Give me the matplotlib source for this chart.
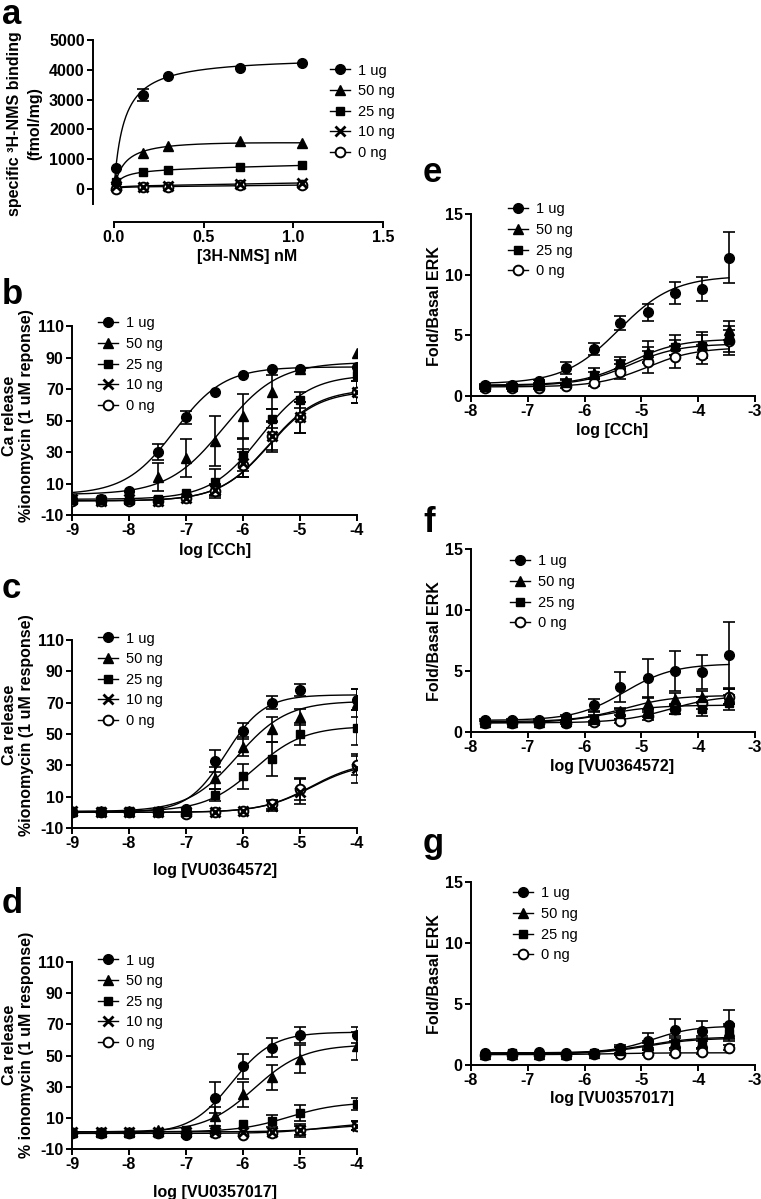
import numpy as np
import matplotlib
matplotlib.use("Agg")
import matplotlib.pyplot as plt
from matplotlib.lines import Line2D

plt.rcParams['font.family'] = ['Liberation Sans', 'DejaVu Sans']
plt.rcParams['axes.unicode_minus'] = False

W, H = 761, 1199

# ---------------- data ----------------
groups5 = ['1 ug', '50 ng', '25 ng', '10 ng', '0 ng']
groups4 = ['1 ug', '50 ng', '25 ng', '0 ng']

# a: saturation binding
a_x = [0.01, 0.16, 0.30, 0.70, 1.05]
a_y = {'1 ug': [700, 3150, 3780, 4060, 4230],
       '50 ng': [350, 1220, 1430, 1620, 1530],
       '25 ng': [220, 560, 640, 740, 810],
       '10 ng': [100, 80, 110, 170, 200],
       '0 ng': [0, 60, 80, 120, 130]}
a_err = {'1 ug': [0, 200, 0, 0, 0]}
# fitted one-site (Bmax, Kd, nonspecific slope)
a_fit = {'1 ug': (4450, 0.055, 0), '50 ng': (1750, 0.06, -100),
         '25 ng': (680, 0.04, 130), '10 ng': (100, 0.02, 100),
         '0 ng': (70, 0.02, 60)}

# b-d: calcium release
ca_x = [-9, -8.5, -8, -7.5, -7, -6.5, -6, -5.5, -5, -4]
b_y = {'1 ug': [0, 0, 5, 30, 52, 68, 79, 83, 83, 84],
       '50 ng': [0, 0, 0, 14, 26, 37, 53, 68, 83, 93],
       '25 ng': [0, 0, 0, 0, 4, 11, 28, 51, 63, 79],
       '10 ng': [0, -1, 0, -1, 1, 6, 23, 40, 52, 68],
       '0 ng': [-1, -1, -1, -1, 1, 5, 22, 40, 52, 68]}
b_err = {'1 ug': [0, 0, 0, 5, 4, 0, 0, 0, 0, 0],
         '50 ng': [0, 0, 0, 9, 12, 16, 14, 11, 0, 0],
         '25 ng': [0, 0, 0, 0, 0, 8, 10, 6, 5, 0],
         '10 ng': [0, 0, 0, 0, 0, 4, 9, 10, 10, 7],
         '0 ng': [0, 0, 0, 0, 0, 4, 8, 9, 10, 7]}
# (bottom, top, logEC50, hill)
b_fit = {'1 ug': (3, 84, -7.2, 1.0), '50 ng': (3, 87, -6.35, 0.9),
         '25 ng': (0, 79, -5.7, 1.0), '10 ng': (-1, 70, -5.55, 1.0),
         '0 ng': (-1, 69, -5.55, 1.0)}

c_y = {'1 ug': [0, 0, 0, 0, 2, 33, 52, 70, 78, 72],
       '50 ng': [1, 1, 1, 1, 1, 22, 42, 53, 61, 70],
       '25 ng': [1, 1, 1, 1, 1, 11, 23, 34, 50, 54],
       '10 ng': [1, 0, 0, 0, 0, 0, 1, 4, 13, 28],
       '0 ng': [0, 0, 0, 0, -1, 0, 1, 5, 15, 30]}
c_err = {'1 ug': [0, 0, 0, 0, 0, 7, 5, 4, 4, 7],
         '50 ng': [0, 0, 0, 0, 0, 7, 6, 8, 5, 9],
         '25 ng': [0, 0, 0, 0, 0, 4, 8, 11, 7, 11],
         '10 ng': [0, 0, 0, 0, 0, 0, 0, 3, 8, 9],
         '0 ng': [0, 0, 0, 0, 0, 0, 0, 3, 7, 6]}
c_fit = {'1 ug': (0, 75, -6.3, 1.3), '50 ng': (0.5, 71, -6.1, 1.0),
         '25 ng': (0.5, 55, -5.8, 1.0), '10 ng': (0, 32, -4.8, 1.0),
         '0 ng': (0, 33, -4.8, 1.0)}

d_y = {'1 ug': [0, 0, 0, 0, -1, 23, 43, 55, 63, 63],
       '50 ng': [1, 1, 1, 2, 1, 11, 25, 36, 48, 56],
       '25 ng': [1, 1, 1, 1, 2, 3, 6, 8, 13, 19],
       '10 ng': [1, 1, 1, 1, 1, 1, 1, 1, 2, 5],
       '0 ng': [0, 0, 0, 0, 0, 0, -1, 0, 2, 5]}
d_err = {'1 ug': [0, 0, 0, 0, 0, 10, 8, 6, 5, 5],
         '50 ng': [0, 0, 0, 0, 0, 6, 8, 8, 9, 9],
         '25 ng': [0, 0, 0, 0, 0, 0, 0, 4, 5, 4],
         '10 ng': [0, 0, 0, 0, 0, 0, 0, 0, 4, 3],
         '0 ng': [0, 0, 0, 0, 0, 0, 0, 0, 3, 3]}
d_fit = {'1 ug': (0, 65, -6.2, 1.2), '50 ng': (1, 57, -5.8, 1.0),
         '25 ng': (1, 20, -5.2, 1.0), '10 ng': (1, 6, -4.5, 1.0),
         '0 ng': (0, 7, -4.6, 1.0)}

# e-g: ERK phosphorylation
erk_x = [-7.75, -7.27, -6.80, -6.32, -5.84, -5.37, -4.89, -4.41, -3.93, -3.46]
e_y = {'1 ug': [0.9, 0.9, 1.2, 2.3, 3.9, 6.0, 6.9, 8.5, 8.8, 11.4],
       '50 ng': [0.8, 0.8, 0.9, 1.2, 1.9, 2.7, 3.6, 4.2, 4.2, 5.4],
       '25 ng': [0.8, 0.8, 0.8, 1.1, 1.7, 2.6, 3.4, 4.0, 4.1, 4.6],
       '0 ng': [0.7, 0.7, 0.7, 0.8, 1.1, 2.0, 2.8, 3.2, 3.4, 4.5]}
e_err = {'1 ug': [0.1, 0.1, 0.1, 0.5, 0.5, 0.6, 0.7, 0.9, 1.0, 2.1],
         '50 ng': [0.1, 0.1, 0.1, 0.2, 0.4, 0.5, 0.9, 0.8, 1.1, 0.8],
         '25 ng': [0.1, 0.1, 0.1, 0.2, 0.3, 0.4, 0.6, 0.6, 0.9, 1.2],
         '0 ng': [0.1, 0.1, 0.1, 0.1, 0.3, 0.6, 0.9, 0.9, 0.8, 0.9]}
e_fit = {'1 ug': (1.0, 9.9, -5.4, 0.9), '50 ng': (0.9, 4.7, -5.2, 1.0),
         '25 ng': (0.85, 4.3, -5.2, 1.0), '0 ng': (0.75, 4.0, -4.9, 1.0)}

f_y = {'1 ug': [1.0, 1.0, 1.0, 1.2, 2.2, 3.7, 4.4, 5.0, 4.9, 6.3],
       '50 ng': [0.85, 0.85, 0.85, 0.9, 1.1, 1.7, 2.4, 2.7, 2.9, 2.9],
       '25 ng': [0.7, 0.7, 0.7, 0.75, 1.1, 1.5, 1.5, 1.8, 1.9, 2.4],
       '0 ng': [0.7, 0.7, 0.7, 0.7, 0.8, 0.9, 1.3, 1.9, 2.4, 2.9]}
f_err = {'1 ug': [0.1, 0.1, 0.1, 0.2, 0.5, 1.2, 1.6, 1.6, 1.4, 2.7],
         '50 ng': [0, 0, 0, 0.1, 0.3, 0.3, 0.5, 0.5, 0.5, 0.6],
         '25 ng': [0, 0, 0, 0.1, 0.5, 0.4, 0.3, 0.3, 0.6, 0.6],
         '0 ng': [0, 0, 0, 0, 0.1, 0.2, 0.3, 0.4, 0.5, 0.6]}
f_fit = {'1 ug': (0.95, 5.6, -5.3, 1.0), '50 ng': (0.85, 3.0, -5.3, 1.0),
         '25 ng': (0.75, 2.2, -5.6, 1.0), '0 ng': (0.75, 3.0, -4.5, 1.0)}

g_y = {'1 ug': [1.0, 1.0, 1.1, 0.95, 1.0, 1.4, 2.0, 2.9, 2.8, 3.3],
       '50 ng': [0.9, 0.9, 0.9, 0.9, 1.0, 1.2, 1.6, 1.9, 1.9, 2.8],
       '25 ng': [0.8, 1.0, 0.8, 0.85, 1.0, 1.2, 1.5, 1.8, 1.8, 2.6],
       '0 ng': [0.8, 0.85, 0.85, 0.85, 0.9, 0.9, 0.9, 1.0, 1.1, 1.4]}
g_err = {'1 ug': [0, 0, 0, 0, 0.1, 0.2, 0.6, 0.9, 0.8, 1.2],
         '50 ng': [0, 0, 0, 0, 0, 0.3, 0.4, 0.5, 0.5, 0.6],
         '25 ng': [0, 0, 0, 0, 0, 0.3, 0.3, 0.4, 0.4, 0.6],
         '0 ng': [0, 0, 0, 0, 0, 0.1, 0.1, 0.2, 0.2, 0.2]}
g_fit = {'1 ug': (1.0, 3.2, -4.8, 1.2), '50 ng': (0.95, 2.3, -4.9, 1.0),
         '25 ng': (0.9, 2.2, -4.9, 1.0), '0 ng': (0.85, 1.0, -5.5, 1.0)}

# ---------------- styles ----------------
mstyle = {'1 ug': dict(marker='o', ms=7, mfc='black', mec='black'),
          '50 ng': dict(marker='^', ms=7, mfc='black', mec='black'),
          '25 ng': dict(marker='s', ms=6.3, mfc='black', mec='black'),
          '10 ng': dict(marker='x', ms=6.5, mfc='black', mec='black', mew=2),
          '0 ng': dict(marker='o', ms=7, mfc='white', mec='black', mew=1.4)}

FS = 11.5
LFS = 10.5


def logistic(x, p):
    bottom, top, ec50, hill = p
    return bottom + (top - bottom) / (1 + 10 ** ((ec50 - x) * hill))


def binding(x, p):
    bmax, kd, ns = p
    return bmax * x / (kd + x) + ns * x


fig = plt.figure(figsize=(W / 100, H / 100), dpi=100)


def make_ax(x0, x1, y0, y1):
    ax = fig.add_axes([x0 / W, 1 - y1 / H, (x1 - x0) / W, (y1 - y0) / H])
    ax.patch.set_alpha(0)
    for s in ['top', 'right']:
        ax.spines[s].set_visible(False)
    for s in ['left', 'bottom']:
        ax.spines[s].set_linewidth(1.4)
    ax.tick_params(width=1.4, length=4, labelsize=FS, pad=2)
    ax._px = (x0, x1, y0, y1)
    return ax


def bold_ticks(ax):
    for lab in ax.get_xticklabels() + ax.get_yticklabels():
        lab.set_fontweight('bold')


def labels(ax, xl, xpos, yl, ypos, ls=1.15):
    x0, x1, y0, y1 = ax._px
    ax.set_xlabel(xl, fontsize=FS, fontweight='bold', va='center')
    ax.xaxis.set_label_coords((xpos[0] - x0) / (x1 - x0), (y1 - xpos[1]) / (y1 - y0))
    ax.set_ylabel(yl, fontsize=FS, fontweight='bold', va='center', linespacing=ls)
    ax.yaxis.set_label_coords((ypos[0] - x0) / (x1 - x0), (y1 - ypos[1]) / (y1 - y0))


def legend(ax, groups, mx, my):
    fpx = LFS * 100 / 72
    hl = 1.4
    handles = [Line2D([], [], color='black', lw=1, **mstyle[g]) for g in groups]
    ax.legend(handles, groups, loc='upper left',
              bbox_to_anchor=((mx - hl * fpx / 2) / W, 1 - (my - 8.5) / H),
              bbox_transform=fig.transFigure, frameon=False, borderpad=0,
              borderaxespad=0, handlelength=hl, handletextpad=0.55,
              labelspacing=0.45, fontsize=LFS)


def draw(ax, xs, ys, errs, fits, fn, xr, groups):
    xs = np.asarray(xs, float)
    xc = np.linspace(xr[0], xr[1], 300)
    for g in groups:
        y = np.asarray(ys[g], float)
        ax.plot(xc, fn(xc, fits[g]), color='black', lw=1.0, zorder=2)
        if g in errs:
            e = np.asarray(errs[g], float)
            m = e > 0
            ax.errorbar(xs[m], y[m], yerr=e[m], fmt='none', ecolor='black',
                        elinewidth=1.2, capsize=4, capthick=1.2, zorder=2.5)
    for g in groups[::-1]:
        ax.plot(xs, ys[g], ls='none', zorder=3, **mstyle[g])


def letter(t, x, y):
    fig.text(x / W, 1 - y / H, t, fontsize=25, fontweight='bold', ha='left', va='baseline')


# ---------------- panel a ----------------
ax = make_ax(93, 383, 40, 222)
draw(ax, a_x, a_y, a_err, a_fit, binding, (0.0, 1.05), groups5)
ax.set_xlim(-0.117, 1.5)
ax.set_ylim(-1107, 5000)
ax.set_xticks([0, 0.5, 1.0, 1.5])
ax.set_xticklabels(['0.0', '0.5', '1.0', '1.5'])
ax.set_yticks(range(0, 5001, 1000))
ax.spines['left'].set_bounds(-500, 5000)
ax.spines['bottom'].set_bounds(0, 1.5)
bold_ticks(ax)
labels(ax, '[3H-NMS] nM', (247, 257), 'specific ³H-NMS binding\n(fmol/mg)', (25, 124), ls=1.45)
legend(ax, groups5, 340, 72)
letter('a', 2, 24)

# ---------------- panels b-d ----------------
ca_panels = [
    (b_y, b_err, b_fit, 326, 515, 'log [CCh]', 550,
     'Ca release\n%ionomycin (1 uM reponse)', 416, 325, 'b', 304),
    (c_y, c_err, c_fit, 640, 828, 'log [VU0364572]', 870,
     'Ca release\n%ionomycin (1 uM response)', 725, 640, 'c', 598),
    (d_y, d_err, d_fit, 962, 1149, 'log [VU0357017]', 1192,
     'Ca release\n% ionomycin (1 uM response)', 1045, 962, 'd', 913),
]
for ys, errs, fits, yt, yb, xl, xly, yl, yly, legy, lt, lty in ca_panels:
    ax = make_ax(72, 357, yt, yb)
    draw(ax, ca_x, ys, errs, fits, logistic, (-9, -4), groups5)
    ax.set_xlim(-9, -4)
    ax.set_ylim(-10, 110)
    ax.set_xticks(range(-9, -3))
    ax.set_yticks(range(-10, 111, 20))
    bold_ticks(ax)
    labels(ax, xl, (215, xly), yl, (18, yly))
    legend(ax, groups5, 108, legy)
    letter(lt, 2, lty)

# ---------------- panels e-g ----------------
erk_panels = [
    (e_y, e_err, e_fit, 214, 396, 'log [CCh]', 431, 306, (518, 211), 'e', 182),
    (f_y, f_err, f_fit, 549, 732, 'log [VU0364572]', 766, 641, (520, 563), 'f', 532),
    (g_y, g_err, g_fit, 882, 1065, 'log [VU0357017]', 1099, 974, (523, 895), 'g', 853),
]
for ys, errs, fits, yt, yb, xl, xly, yly, legpos, lt, lty in erk_panels:
    ax = make_ax(471, 755, yt, yb)
    draw(ax, erk_x, ys, errs, fits, logistic, (-7.75, -3.46), groups4)
    ax.set_xlim(-8, -3)
    ax.set_ylim(0, 15)
    ax.set_xticks(range(-8, -2))
    ax.set_yticks([0, 5, 10, 15])
    bold_ticks(ax)
    labels(ax, xl, (612, xly), 'Fold/Basal ERK', (435, yly))
    legend(ax, groups4, legpos[0], legpos[1])
    letter(lt, 423, lty)

fig.savefig('out.png', dpi=100)
